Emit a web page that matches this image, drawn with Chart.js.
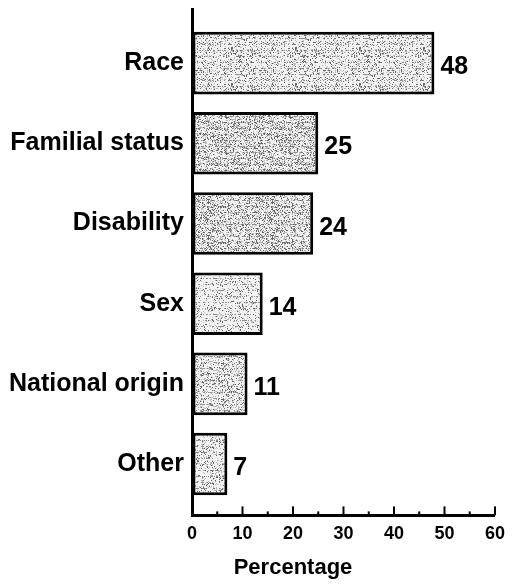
<!DOCTYPE html>
<html>
<head>
<meta charset="utf-8">
<title>Complaints by basis</title>
<script src="https://cdn.jsdelivr.net/npm/chart.js@4.4.1/dist/chart.umd.min.js"></script>
<style>
    html, body { margin: 0; padding: 0; background: #fff; }
    #wrap { width: 513px; height: 584px; }
</style>
</head>
<body>
<div id="wrap"><canvas id="chart" width="513" height="584"></canvas></div>
<script>
// ==============================
// Data
// ==============================

const categories = ["Race", "Familial status", "Disability", "Sex", "National origin", "Other"];
const percentages = [48, 25, 24, 14, 11, 7];
const xTicks = [0, 10, 20, 30, 40, 50, 60];
const axisTitle = "Percentage";

// speckle density of each bar's scanned fill
const barShades = [0.1, 0.17, 0.16, 0.08, 0.13, 0.1];

const FONT = "'Liberation Sans', Arial, Helvetica, sans-serif";

// ==============================
// Stippled fill (looks like the printed screen)
// ==============================

function speckle(ctx, density, seed) {

    const c = document.createElement("canvas");
    c.width = 64;
    c.height = 36;
    const g = c.getContext("2d");
    const img = g.createImageData(64, 36);

    for (let y = 0; y < 36; y++) {
        for (let x = 0; x < 64; x++) {
            let h = Math.imul(x + 1, 73856093) ^ Math.imul(y + 1, 19349663) ^ Math.imul(seed + 7, 83492791);
            h = Math.imul(h ^ (h >>> 13), 1274126177);
            h = (h ^ (h >>> 16)) >>> 0;
            const r = (h % 1000) / 1000;
            let v = 242;
            if (r < density) v = 100;
            else if (r < density * 2.4) v = 185;
            if (y % 6 === 2 && (h >>> 11) % 3 === 0) v = 140;
            const k = (y * 64 + x) * 4;
            img.data[k] = v;
            img.data[k + 1] = v;
            img.data[k + 2] = v;
            img.data[k + 3] = 255;
        }
    }

    g.putImageData(img, 0, 0);
    return ctx.createPattern(c, "repeat");
}

const canvas = document.getElementById("chart");
const ctx = canvas.getContext("2d");
const fills = barShades.map((d, i) => speckle(ctx, d, i));

// ==============================
// Value labels, inward ticks, axis title
// ==============================

const extras = {
    id: "extras",
    afterDatasetsDraw(chart) {
        const c = chart.ctx;
        const x = chart.scales.x;
        const area = chart.chartArea;

        c.save();
        c.fillStyle = "#000";
        c.strokeStyle = "#000";

        // value next to each bar
        c.font = "bold 25px " + FONT;
        c.textAlign = "left";
        c.textBaseline = "alphabetic";
        chart.getDatasetMeta(0).data.forEach((bar, i) => {
            c.fillText(String(percentages[i]), bar.x + 6, bar.y + 11);
        });

        // major ticks at labels, minor ticks halfway
        c.lineWidth = 2;
        for (let i = 0; i < xTicks.length; i++) {
            const px = x.getPixelForValue(xTicks[i]);
            c.beginPath();
            c.moveTo(px, area.bottom);
            c.lineTo(px, area.bottom - 9);
            c.stroke();
            if (i < xTicks.length - 1) {
                const mx = x.getPixelForValue((xTicks[i] + xTicks[i + 1]) / 2);
                c.beginPath();
                c.moveTo(mx, area.bottom);
                c.lineTo(mx, area.bottom - 4);
                c.stroke();
            }
        }

        // axis title
        c.font = "bold 22px " + FONT;
        c.textAlign = "center";
        c.fillText(axisTitle, x.getPixelForValue(xTicks[2]), 574);

        c.restore();
    }
};

// ==============================
// Chart
// ==============================

new Chart(canvas, {
    type: "bar",
    data: {
        datasets: [{
            data: percentages.map((v, i) => ({ x: v, y: i })),
            backgroundColor: fills,
            borderColor: "#000",
            borderWidth: 3,
            borderSkipped: false,
            categoryPercentage: 1,
            barPercentage: 0.78
        }]
    },
    options: {
        indexAxis: "y",
        responsive: false,
        animation: false,
        devicePixelRatio: 1,
        layout: {
            padding: { top: 9, left: 0, right: 13, bottom: 31 }
        },
        plugins: {
            legend: { display: false },
            tooltip: { enabled: false }
        },
        scales: {
            x: {
                type: "linear",
                position: "bottom",
                min: xTicks[0],
                max: xTicks[xTicks.length - 1],
                afterBuildTicks: (scale) => {
                    scale.ticks = xTicks.map(v => ({ value: v }));
                },
                grid: { drawOnChartArea: false, drawTicks: false },
                border: { display: true, color: "#000", width: 3 },
                ticks: {
                    color: "#000",
                    padding: 8,
                    font: { family: FONT, size: 18, weight: "bold" }
                }
            },
            y: {
                type: "linear",
                offset: false,
                reverse: true,
                min: -0.675,
                max: categories.length - 1 + 0.64,
                afterBuildTicks: (scale) => {
                    scale.ticks = categories.map((c, i) => ({ value: i }));
                },
                afterFit: (scale) => {
                    scale.width = 192;
                    scale.paddingTop = 0;
                    scale.paddingBottom = 0;
                },
                grid: { drawOnChartArea: false, drawTicks: false, offset: false },
                border: { display: true, color: "#000", width: 3 },
                ticks: {
                    color: "#000",
                    padding: 8,
                    font: { family: FONT, size: 25, weight: "bold" },
                    callback: (value) => categories[value]
                }
            }
        }
    },
    plugins: [extras]
});
</script>
</body>
</html>
